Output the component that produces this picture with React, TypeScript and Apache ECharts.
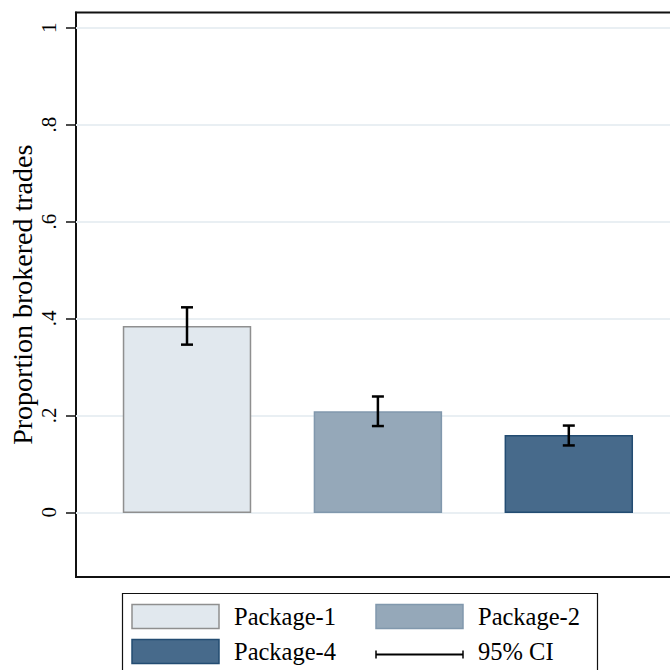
import React, { useEffect, useRef } from "react";
import * as echarts from "echarts";

const categories = ["Package-1", "Package-2", "Package-4"];
const positions = [1, 2, 3];
const means = [0.383, 0.207, 0.158];
const ciLow = [0.346, 0.178, 0.138];
const ciHigh = [0.423, 0.239, 0.179];
const yTicks = [0, 0.2, 0.4, 0.6, 0.8, 1];
const fills = ["#e1e8ee", "#95a8b9", "#476a8b"];
const borders = ["#8f8f8f", "#8198ad", "#234c72"];
const ciLabel = "95% CI";
const yTitle = "Proportion brokered trades";

const FONT = "'Liberation Serif', 'DejaVu Serif', serif";

export default function App() {
  const ref = useRef<HTMLDivElement>(null);
  useEffect(() => {
    if (!ref.current) return;
    const chart = echarts.init(ref.current, undefined, { renderer: "svg" });
    const ciData = positions.map((p, i) => [p, ciLow[i], ciHigh[i]]);
    const barData = positions.map((p, i) => [p, means[i]]);

    const legendRows = [
      [0, 1],
      [2, -1],
    ];
    const legendGraphics: any[] = [
      {
        type: "rect",
        shape: { x: 122.5, y: 593.5, width: 475, height: 120 },
        style: { fill: "#fff", stroke: "#111", lineWidth: 1.2 },
        z: 1,
      },
    ];
    const colX = [132, 376];
    const textX = [234, 478];
    const rowY = [604.5, 639.5];
    legendRows.forEach((row, r) => {
      row.forEach((idx, c) => {
        if (idx >= 0) {
          legendGraphics.push({
            type: "rect",
            shape: { x: colX[c], y: rowY[r], width: 87, height: 24 },
            style: { fill: fills[idx], stroke: borders[idx], lineWidth: 1.5 },
            z: 2,
          });
          legendGraphics.push({
            type: "text",
            x: textX[c],
            y: rowY[r] + 12,
            style: {
              text: categories[idx],
              font: `24.5px ${FONT}`,
              fill: "#000",
              verticalAlign: "middle",
            },
            z: 2,
          });
        } else {
          const ly = rowY[r] + 15;
          legendGraphics.push({
            type: "line",
            shape: { x1: colX[c], y1: ly, x2: colX[c] + 87, y2: ly },
            style: { stroke: "#000", lineWidth: 2 },
            z: 2,
          });
          legendGraphics.push({
            type: "line",
            shape: { x1: colX[c], y1: ly - 4, x2: colX[c], y2: ly + 4 },
            style: { stroke: "#000", lineWidth: 1.5 },
            z: 2,
          });
          legendGraphics.push({
            type: "line",
            shape: { x1: colX[c] + 87, y1: ly - 4, x2: colX[c] + 87, y2: ly + 4 },
            style: { stroke: "#000", lineWidth: 1.5 },
            z: 2,
          });
          legendGraphics.push({
            type: "text",
            x: textX[c],
            y: rowY[r] + 12,
            style: {
              text: ciLabel,
              font: `24.5px ${FONT}`,
              fill: "#000",
              verticalAlign: "middle",
            },
            z: 2,
          });
        }
      });
    });

    chart.setOption({
      animation: false,
      backgroundColor: "#fff",
      grid: {
        left: 76,
        top: 12.5,
        width: 604,
        height: 564.5,
        show: true,
        borderColor: "#111",
        borderWidth: 2,
        containLabel: false,
        outerBoundsMode: "none",
      },
      xAxis: {
        type: "value",
        min: 0.4185,
        max: 3.5825,
        axisLine: { show: false },
        axisTick: { show: false },
        axisLabel: { show: false },
        splitLine: { show: false },
      },
      yAxis: {
        type: "value",
        min: -0.1335,
        max: 1.0314,
        name: yTitle,
        nameLocation: "middle",
        nameRotate: 90,
        nameGap: 40,
        nameMoveOverlap: false,
        nameTextStyle: { fontFamily: FONT, fontSize: 28, color: "#000" },
        axisLine: { show: true, lineStyle: { color: "#111", width: 2 } },
        axisTick: {
          show: true,
          length: 10,
          inside: false,
          customValues: yTicks,
          lineStyle: { color: "#111", width: 1.5 },
        },
        axisLabel: {
          show: true,
          customValues: yTicks,
          rotate: 90,
          margin: 17,
          fontFamily: FONT,
          fontSize: 21,
          color: "#000",
          formatter: (v: number) => {
            if (Math.abs(v) < 1e-9) return "0";
            if (Math.abs(v - 1) < 1e-9) return "1";
            return String(Math.round(v * 10) / 10).replace(/^0/, "");
          },
        },
        splitLine: { show: false },
      },
      series: [
        {
          type: "line",
          data: [],
          silent: true,
          z: 1,
          markLine: {
            silent: true,
            z: 1,
            symbol: "none",
            label: { show: false },
            lineStyle: { color: "#e9eff3", width: 2, type: "solid" },
            data: yTicks.map((t) => ({ yAxis: t })),
          },
        },
        {
          type: "custom",
          name: "bars",
          data: barData,
          z: 3,
          renderItem: (params: any, api: any) => {
            const i = params.dataIndex;
            const x = api.value(0);
            const y = api.value(1);
            const top = api.coord([x, y]);
            const base = api.coord([x, 0]);
            const w = api.size([0.665, 0])[0];
            return {
              type: "rect",
              shape: { x: top[0] - w / 2, y: top[1], width: w, height: base[1] - top[1] },
              style: { fill: fills[i], stroke: borders[i], lineWidth: 1.5 },
            };
          },
        },
        {
          type: "custom",
          name: ciLabel,
          data: ciData,
          z: 4,
          renderItem: (params: any, api: any) => {
            const x = api.value(0);
            const lo = api.coord([x, api.value(1)]);
            const hi = api.coord([x, api.value(2)]);
            const half = 6;
            const st = { stroke: "#000", lineWidth: 2.5 };
            return {
              type: "group",
              children: [
                { type: "line", shape: { x1: lo[0], y1: lo[1], x2: hi[0], y2: hi[1] }, style: st },
                { type: "line", shape: { x1: lo[0] - half, y1: lo[1], x2: lo[0] + half, y2: lo[1] }, style: st },
                { type: "line", shape: { x1: hi[0] - half, y1: hi[1], x2: hi[0] + half, y2: hi[1] }, style: st },
              ],
            };
          },
        },
      ],
      graphic: legendGraphics,
    });
    return () => chart.dispose();
  }, []);
  return (
    <div
      ref={ref}
      style={{ position: "fixed", left: 0, top: 0, width: 670, height: 670 }}
    />
  );
}
